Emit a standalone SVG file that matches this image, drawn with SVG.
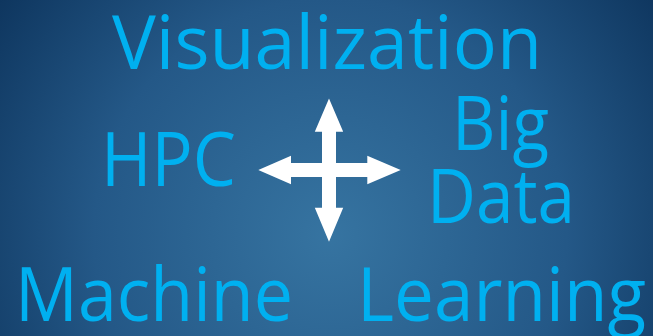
<svg xmlns="http://www.w3.org/2000/svg" width="653" height="336" viewBox="0 0 653 336">
  <defs>
    <radialGradient id="bg" cx="330" cy="235" r="430" gradientUnits="userSpaceOnUse">
      <stop offset="0" stop-color="#3674a1"/>
      <stop offset="0.55" stop-color="#245887"/>
      <stop offset="1" stop-color="#0b3159"/>
    </radialGradient>
    <style>
      .topic { fill: #00b0f0; font-family: "Open Sans", "Noto Sans", "Liberation Sans", sans-serif; font-size: 75px; }
      .arrow { fill: #ffffff; }
    </style>
  </defs>

  <rect width="653" height="336" fill="url(#bg)"/>

  <g id="visualization">
    <text class="topic" x="112" y="69" textLength="430" lengthAdjust="spacingAndGlyphs">Visualization</text>
  </g>

  <g id="hpc">
    <text class="topic" x="101" y="186" textLength="135" lengthAdjust="spacingAndGlyphs">HPC</text>
  </g>

  <g id="big-data">
    <text class="topic" x="452" y="149.5" textLength="97" lengthAdjust="spacingAndGlyphs">Big</text>
    <text class="topic" x="427" y="222.5" textLength="148" lengthAdjust="spacingAndGlyphs">Data</text>
  </g>

  <g id="machine-learning">
    <text class="topic" y="321"><tspan x="15" textLength="278" lengthAdjust="spacingAndGlyphs">Machine</tspan> <tspan x="357" textLength="289" lengthAdjust="spacingAndGlyphs">Learning</tspan></text>
  </g>

  <!-- four-way arrow linking the four topics -->
  <g id="connectors">
    <polygon class="arrow" points="329,98.5 343.2,131.7 336,131.7 336,163 367.3,163 367.3,155.8 400.7,170 367.3,184.2 367.3,177 336,177 336,207.7 343.2,207.7 329,241.7 314.8,207.7 322,207.7 322,177 291,177 291,184.2 258.3,170 291,155.8 291,163 322,163 322,131.7 314.8,131.7"/>
  </g>
</svg>
